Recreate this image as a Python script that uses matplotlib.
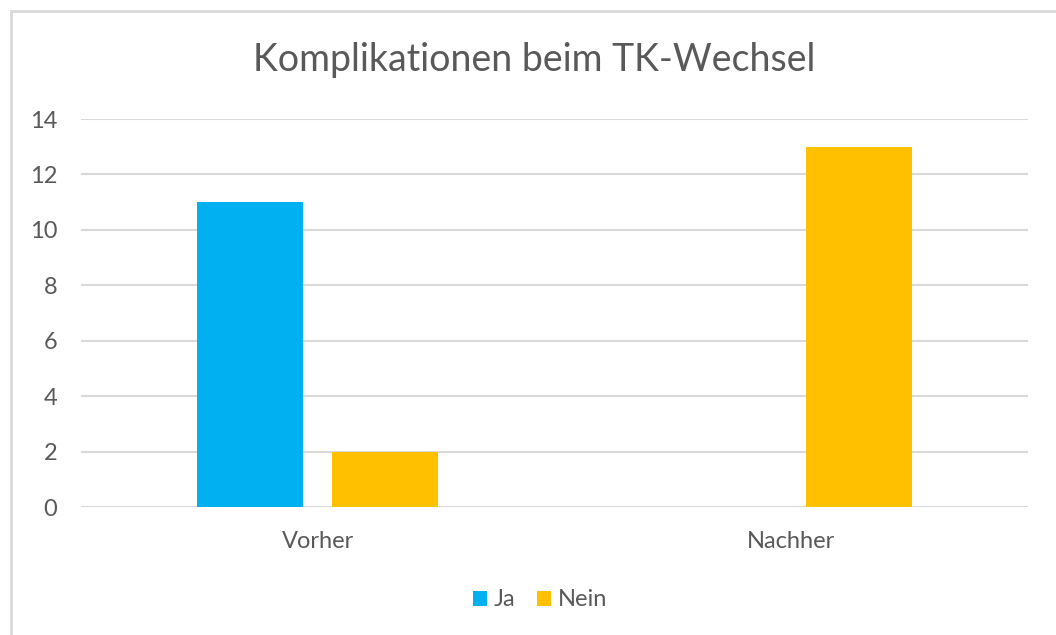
import matplotlib
matplotlib.use("Agg")
import matplotlib.pyplot as plt
from matplotlib.patches import Rectangle
import numpy as np

plt.rcParams['font.family'] = ['Lato', 'DejaVu Sans']

categories = ["Vorher", "Nachher"]
series_names = ["Ja", "Nein"]
ja_values = [11, 0]
nein_values = [2, 13]
yticks = [0, 2, 4, 6, 8, 10, 12, 14]

c_ja = "#00b0f0"
c_nein = "#ffc000"
txt = "#595959"
grid = "#d9d9d9"

W, H = 1056, 635
fig = plt.figure(figsize=(W/100, H/100), dpi=100)
ax = fig.add_axes([81/W, 1-507/H, (1028-81)/W, (507-119)/H])

x = np.arange(len(categories))
bw = 0.224
off = 0.143
ax.bar(x - off, ja_values, bw, color=c_ja, label=series_names[0], zorder=3)
ax.bar(x + off, nein_values, bw, color=c_nein, label=series_names[1], zorder=3)

ax.set_xlim(-0.5, 1.5)
ax.set_ylim(0, 14)
ax.set_yticks(yticks)
ax.set_xticks(x)
ax.set_xticklabels(categories)
ax.tick_params(axis='both', length=0, labelsize=17, colors=txt)
ax.tick_params(axis='y', pad=17)
ax.tick_params(axis='x', pad=17)
for s in ax.spines.values():
    s.set_visible(False)
ax.yaxis.grid(True, color=grid, linewidth=1.5, zorder=0)
ax.set_axisbelow(True)

fig.text(534/W, 1-60/H, "Komplikationen beim TK-Wechsel", ha='center', va='center',
         fontsize=27, color=txt)

leg = fig.legend(loc='center', bbox_to_anchor=(540/W, 1-600/H), ncol=2, frameon=False,
                 fontsize=17, labelcolor=txt, handlelength=0.6, handleheight=0.6,
                 handletextpad=0.3, columnspacing=0.9)

fig.patches.append(Rectangle((11/W, -0.05), 1.2, 1-11/H+0.05, transform=fig.transFigure,
                             fill=False, edgecolor=grid, linewidth=2))

fig.savefig("out.png", dpi=100)
